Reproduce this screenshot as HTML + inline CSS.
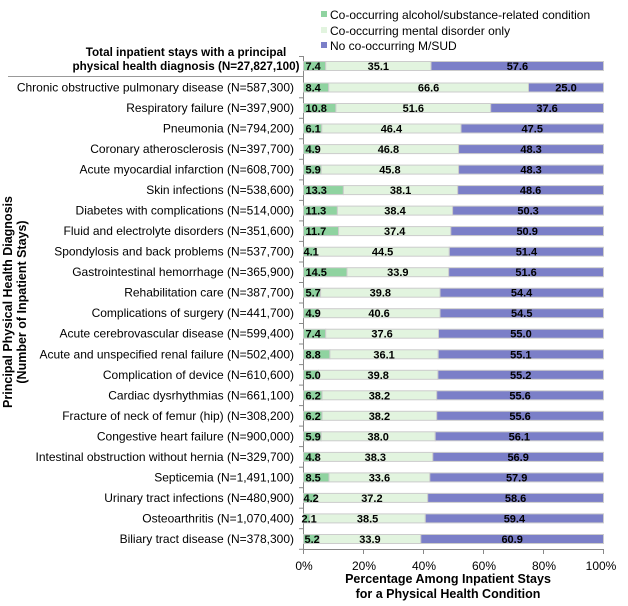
<!DOCTYPE html>
<html><head><meta charset="utf-8"><style>
body{margin:0;background:#fff}
svg{display:block;font-family:"Liberation Sans",Arial,sans-serif}
.l{font-size:12px;fill:#000;text-anchor:end}
.v{font-size:11px;font-weight:bold;fill:#000;text-anchor:middle}
.g{font-size:11px;font-weight:bold;fill:#000}
</style></head><body>
<svg width="628" height="606" viewBox="0 0 628 606">
<rect x="321" y="11" width="6" height="6" fill="#8fd3a0"/>
<text x="330" y="19" font-size="12">Co-occurring alcohol/substance-related condition</text>
<rect x="321" y="27" width="6" height="6" fill="#e2f4df"/>
<text x="330" y="35" font-size="12">Co-occurring mental disorder only</text>
<rect x="321" y="42" width="6" height="6" fill="#7b7fc8"/>
<text x="330" y="50" font-size="12">No co-occurring M/SUD</text>

<text x="186" y="56" font-size="11.7" font-weight="bold" text-anchor="middle">Total inpatient stays with a principal</text>
<text x="186" y="70" font-size="11.7" font-weight="bold" text-anchor="middle">physical health diagnosis (N=27,827,100)</text>
<line x1="8" y1="76.5" x2="303.5" y2="76.5" stroke="#999" stroke-width="1"/>

<line x1="303.5" y1="56" x2="303.5" y2="549.5" stroke="#888" stroke-width="1"/>
<line x1="303.5" y1="549.5" x2="603.5" y2="549.5" stroke="#888" stroke-width="1"/>
<g stroke="#888">
<line x1="303.5" y1="549" x2="303.5" y2="554"/><line x1="363.5" y1="549" x2="363.5" y2="554"/><line x1="423.5" y1="549" x2="423.5" y2="554"/><line x1="483.5" y1="549" x2="483.5" y2="554"/><line x1="543.5" y1="549" x2="543.5" y2="554"/><line x1="603.5" y1="549" x2="603.5" y2="554"/>
<line x1="299" y1="56.5" x2="303.5" y2="56.5"/>
<line x1="299" y1="97.8" x2="303.5" y2="97.8"/><line x1="299" y1="118.3" x2="303.5" y2="118.3"/><line x1="299" y1="138.8" x2="303.5" y2="138.8"/><line x1="299" y1="159.3" x2="303.5" y2="159.3"/><line x1="299" y1="179.9" x2="303.5" y2="179.9"/><line x1="299" y1="200.4" x2="303.5" y2="200.4"/><line x1="299" y1="220.9" x2="303.5" y2="220.9"/><line x1="299" y1="241.4" x2="303.5" y2="241.4"/><line x1="299" y1="262" x2="303.5" y2="262"/><line x1="299" y1="282.5" x2="303.5" y2="282.5"/><line x1="299" y1="303" x2="303.5" y2="303"/><line x1="299" y1="323.5" x2="303.5" y2="323.5"/><line x1="299" y1="344" x2="303.5" y2="344"/><line x1="299" y1="364.6" x2="303.5" y2="364.6"/><line x1="299" y1="385.1" x2="303.5" y2="385.1"/><line x1="299" y1="405.6" x2="303.5" y2="405.6"/><line x1="299" y1="426.1" x2="303.5" y2="426.1"/><line x1="299" y1="446.6" x2="303.5" y2="446.6"/><line x1="299" y1="467.2" x2="303.5" y2="467.2"/><line x1="299" y1="487.7" x2="303.5" y2="487.7"/><line x1="299" y1="508.2" x2="303.5" y2="508.2"/><line x1="299" y1="528.7" x2="303.5" y2="528.7"/><line x1="299" y1="549.3" x2="303.5" y2="549.3"/>
</g>
<g font-size="12" text-anchor="middle">
<text x="304" y="570">0%</text><text x="364" y="570">20%</text><text x="424" y="570">40%</text><text x="484" y="570">60%</text><text x="544" y="570">80%</text><text x="601" y="570">100%</text>
</g>
<text x="448" y="583" font-size="12.5" font-weight="bold" text-anchor="middle">Percentage Among Inpatient Stays</text>
<text x="448" y="598" font-size="12.5" font-weight="bold" text-anchor="middle">for a Physical Health Condition</text>
<g transform="translate(12,302) rotate(-90)" font-size="12.5" font-weight="bold" text-anchor="middle">
<text x="0" y="0">Principal Physical Health Diagnosis</text>
<text x="0" y="14">(Number of Inpatient Stays)</text>
</g>

<g transform="translate(303.5,66)" stroke="#ccc" stroke-width="1">
<rect x="0" y="-4.5" width="22.2" height="9" fill="#8fd3a0"/>
<rect x="22.2" y="-4.5" width="105.3" height="9" fill="#e2f4df"/>
<rect x="127.5" y="-4.5" width="172.5" height="9" fill="#7b7fc8"/>
</g>
<g transform="translate(303.5,70)"><text class="g" x="2">7.4</text><text class="v" x="74.85">35.1</text><text class="v" x="213.9">57.6</text></g>

<g>
<text class="l" x="294" y="91.5">Chronic obstructive pulmonary disease (N=587,300)</text>
<text class="l" x="294" y="112">Respiratory failure (N=397,900)</text>
<text class="l" x="294" y="132.5">Pneumonia (N=794,200)</text>
<text class="l" x="294" y="153.1">Coronary atherosclerosis (N=397,700)</text>
<text class="l" x="294" y="173.6">Acute myocardial infarction (N=608,700)</text>
<text class="l" x="294" y="194.1">Skin infections (N=538,600)</text>
<text class="l" x="294" y="214.6">Diabetes with complications (N=514,000)</text>
<text class="l" x="294" y="235.1">Fluid and electrolyte disorders (N=351,600)</text>
<text class="l" x="294" y="255.7">Spondylosis and back problems (N=537,700)</text>
<text class="l" x="294" y="276.2">Gastrointestinal hemorrhage (N=365,900)</text>
<text class="l" x="294" y="296.7">Rehabilitation care (N=387,700)</text>
<text class="l" x="294" y="317.2">Complications of surgery (N=441,700)</text>
<text class="l" x="294" y="337.7">Acute cerebrovascular disease (N=599,400)</text>
<text class="l" x="294" y="358.3">Acute and unspecified renal failure (N=502,400)</text>
<text class="l" x="294" y="378.8">Complication of device (N=610,600)</text>
<text class="l" x="294" y="399.3">Cardiac dysrhythmias (N=661,100)</text>
<text class="l" x="294" y="419.8">Fracture of neck of femur (hip) (N=308,200)</text>
<text class="l" x="294" y="440.3">Congestive heart failure (N=900,000)</text>
<text class="l" x="294" y="460.9">Intestinal obstruction without hernia (N=329,700)</text>
<text class="l" x="294" y="481.4">Septicemia (N=1,491,100)</text>
<text class="l" x="294" y="501.9">Urinary tract infections (N=480,900)</text>
<text class="l" x="294" y="522.4">Osteoarthritis (N=1,070,400)</text>
<text class="l" x="294" y="543">Biliary tract disease (N=378,300)</text>
</g>

<g stroke="#ccc" stroke-width="1">
<g transform="translate(303.5,87.5)"><rect x="0" y="-4.5" width="25.2" height="9" fill="#8fd3a0"/><rect x="25.2" y="-4.5" width="199.8" height="9" fill="#e2f4df"/><rect x="225" y="-4.5" width="75" height="9" fill="#7b7fc8"/></g>
<g transform="translate(303.5,108)"><rect x="0" y="-4.5" width="32.4" height="9" fill="#8fd3a0"/><rect x="32.4" y="-4.5" width="154.8" height="9" fill="#e2f4df"/><rect x="187.2" y="-4.5" width="112.8" height="9" fill="#7b7fc8"/></g>
<g transform="translate(303.5,128.5)"><rect x="0" y="-4.5" width="18.3" height="9" fill="#8fd3a0"/><rect x="18.3" y="-4.5" width="139.2" height="9" fill="#e2f4df"/><rect x="157.5" y="-4.5" width="142.5" height="9" fill="#7b7fc8"/></g>
<g transform="translate(303.5,149.1)"><rect x="0" y="-4.5" width="14.7" height="9" fill="#8fd3a0"/><rect x="14.7" y="-4.5" width="140.4" height="9" fill="#e2f4df"/><rect x="155.1" y="-4.5" width="144.9" height="9" fill="#7b7fc8"/></g>
<g transform="translate(303.5,169.6)"><rect x="0" y="-4.5" width="17.7" height="9" fill="#8fd3a0"/><rect x="17.7" y="-4.5" width="137.4" height="9" fill="#e2f4df"/><rect x="155.1" y="-4.5" width="144.9" height="9" fill="#7b7fc8"/></g>
<g transform="translate(303.5,190.1)"><rect x="0" y="-4.5" width="39.9" height="9" fill="#8fd3a0"/><rect x="39.9" y="-4.5" width="114.3" height="9" fill="#e2f4df"/><rect x="154.2" y="-4.5" width="145.8" height="9" fill="#7b7fc8"/></g>
<g transform="translate(303.5,210.6)"><rect x="0" y="-4.5" width="33.9" height="9" fill="#8fd3a0"/><rect x="33.9" y="-4.5" width="115.2" height="9" fill="#e2f4df"/><rect x="149.1" y="-4.5" width="150.9" height="9" fill="#7b7fc8"/></g>
<g transform="translate(303.5,231.1)"><rect x="0" y="-4.5" width="35.1" height="9" fill="#8fd3a0"/><rect x="35.1" y="-4.5" width="112.2" height="9" fill="#e2f4df"/><rect x="147.3" y="-4.5" width="152.7" height="9" fill="#7b7fc8"/></g>
<g transform="translate(303.5,251.7)"><rect x="0" y="-4.5" width="12.3" height="9" fill="#8fd3a0"/><rect x="12.3" y="-4.5" width="133.5" height="9" fill="#e2f4df"/><rect x="145.8" y="-4.5" width="154.2" height="9" fill="#7b7fc8"/></g>
<g transform="translate(303.5,272.2)"><rect x="0" y="-4.5" width="43.5" height="9" fill="#8fd3a0"/><rect x="43.5" y="-4.5" width="101.7" height="9" fill="#e2f4df"/><rect x="145.2" y="-4.5" width="154.8" height="9" fill="#7b7fc8"/></g>
<g transform="translate(303.5,292.7)"><rect x="0" y="-4.5" width="17.1" height="9" fill="#8fd3a0"/><rect x="17.1" y="-4.5" width="119.4" height="9" fill="#e2f4df"/><rect x="136.5" y="-4.5" width="163.5" height="9" fill="#7b7fc8"/></g>
<g transform="translate(303.5,313.2)"><rect x="0" y="-4.5" width="14.7" height="9" fill="#8fd3a0"/><rect x="14.7" y="-4.5" width="121.8" height="9" fill="#e2f4df"/><rect x="136.5" y="-4.5" width="163.5" height="9" fill="#7b7fc8"/></g>
<g transform="translate(303.5,333.7)"><rect x="0" y="-4.5" width="22.2" height="9" fill="#8fd3a0"/><rect x="22.2" y="-4.5" width="112.8" height="9" fill="#e2f4df"/><rect x="135" y="-4.5" width="165" height="9" fill="#7b7fc8"/></g>
<g transform="translate(303.5,354.3)"><rect x="0" y="-4.5" width="26.4" height="9" fill="#8fd3a0"/><rect x="26.4" y="-4.5" width="108.3" height="9" fill="#e2f4df"/><rect x="134.7" y="-4.5" width="165.3" height="9" fill="#7b7fc8"/></g>
<g transform="translate(303.5,374.8)"><rect x="0" y="-4.5" width="15" height="9" fill="#8fd3a0"/><rect x="15" y="-4.5" width="119.4" height="9" fill="#e2f4df"/><rect x="134.4" y="-4.5" width="165.6" height="9" fill="#7b7fc8"/></g>
<g transform="translate(303.5,395.3)"><rect x="0" y="-4.5" width="18.6" height="9" fill="#8fd3a0"/><rect x="18.6" y="-4.5" width="114.6" height="9" fill="#e2f4df"/><rect x="133.2" y="-4.5" width="166.8" height="9" fill="#7b7fc8"/></g>
<g transform="translate(303.5,415.8)"><rect x="0" y="-4.5" width="18.6" height="9" fill="#8fd3a0"/><rect x="18.6" y="-4.5" width="114.6" height="9" fill="#e2f4df"/><rect x="133.2" y="-4.5" width="166.8" height="9" fill="#7b7fc8"/></g>
<g transform="translate(303.5,436.3)"><rect x="0" y="-4.5" width="17.7" height="9" fill="#8fd3a0"/><rect x="17.7" y="-4.5" width="114" height="9" fill="#e2f4df"/><rect x="131.7" y="-4.5" width="168.3" height="9" fill="#7b7fc8"/></g>
<g transform="translate(303.5,456.9)"><rect x="0" y="-4.5" width="14.4" height="9" fill="#8fd3a0"/><rect x="14.4" y="-4.5" width="114.9" height="9" fill="#e2f4df"/><rect x="129.3" y="-4.5" width="170.7" height="9" fill="#7b7fc8"/></g>
<g transform="translate(303.5,477.4)"><rect x="0" y="-4.5" width="25.5" height="9" fill="#8fd3a0"/><rect x="25.5" y="-4.5" width="100.8" height="9" fill="#e2f4df"/><rect x="126.3" y="-4.5" width="173.7" height="9" fill="#7b7fc8"/></g>
<g transform="translate(303.5,497.9)"><rect x="0" y="-4.5" width="12.6" height="9" fill="#8fd3a0"/><rect x="12.6" y="-4.5" width="111.6" height="9" fill="#e2f4df"/><rect x="124.2" y="-4.5" width="175.8" height="9" fill="#7b7fc8"/></g>
<g transform="translate(303.5,518.4)"><rect x="0" y="-4.5" width="6.3" height="9" fill="#8fd3a0"/><rect x="6.3" y="-4.5" width="115.5" height="9" fill="#e2f4df"/><rect x="121.8" y="-4.5" width="178.2" height="9" fill="#7b7fc8"/></g>
<g transform="translate(303.5,539)"><rect x="0" y="-4.5" width="15.6" height="9" fill="#8fd3a0"/><rect x="15.6" y="-4.5" width="101.7" height="9" fill="#e2f4df"/><rect x="117.3" y="-4.5" width="182.7" height="9" fill="#7b7fc8"/></g>
</g>

<g>
<g transform="translate(303.5,91.5)"><text class="g" x="2">8.4</text><text class="v" x="125.1">66.6</text><text class="v" x="262.5">25.0</text></g>
<g transform="translate(303.5,112)"><text class="g" x="2">10.8</text><text class="v" x="109.8">51.6</text><text class="v" x="243.6">37.6</text></g>
<g transform="translate(303.5,132.5)"><text class="g" x="2">6.1</text><text class="v" x="87.9">46.4</text><text class="v" x="228.75">47.5</text></g>
<g transform="translate(303.5,153.1)"><text class="g" x="2">4.9</text><text class="v" x="84.9">46.8</text><text class="v" x="227.55">48.3</text></g>
<g transform="translate(303.5,173.6)"><text class="g" x="2">5.9</text><text class="v" x="86.4">45.8</text><text class="v" x="227.55">48.3</text></g>
<g transform="translate(303.5,194.1)"><text class="g" x="2">13.3</text><text class="v" x="97.05">38.1</text><text class="v" x="227.1">48.6</text></g>
<g transform="translate(303.5,214.6)"><text class="g" x="2">11.3</text><text class="v" x="91.5">38.4</text><text class="v" x="224.55">50.3</text></g>
<g transform="translate(303.5,235.1)"><text class="g" x="2">11.7</text><text class="v" x="91.2">37.4</text><text class="v" x="223.65">50.9</text></g>
<g transform="translate(303.5,255.7)"><text class="g" x="0">4.1</text><text class="v" x="79.05">44.5</text><text class="v" x="222.9">51.4</text></g>
<g transform="translate(303.5,276.2)"><text class="g" x="2">14.5</text><text class="v" x="94.35">33.9</text><text class="v" x="222.6">51.6</text></g>
<g transform="translate(303.5,296.7)"><text class="g" x="2">5.7</text><text class="v" x="76.8">39.8</text><text class="v" x="218.1">54.4</text></g>
<g transform="translate(303.5,317.2)"><text class="g" x="2">4.9</text><text class="v" x="75.6">40.6</text><text class="v" x="218.25">54.5</text></g>
<g transform="translate(303.5,337.7)"><text class="g" x="2">7.4</text><text class="v" x="78.6">37.6</text><text class="v" x="217.5">55.0</text></g>
<g transform="translate(303.5,358.3)"><text class="g" x="2">8.8</text><text class="v" x="80.55">36.1</text><text class="v" x="217.35">55.1</text></g>
<g transform="translate(303.5,378.8)"><text class="g" x="2">5.0</text><text class="v" x="74.7">39.8</text><text class="v" x="217.2">55.2</text></g>
<g transform="translate(303.5,399.3)"><text class="g" x="2">6.2</text><text class="v" x="75.9">38.2</text><text class="v" x="216.6">55.6</text></g>
<g transform="translate(303.5,419.8)"><text class="g" x="2">6.2</text><text class="v" x="75.9">38.2</text><text class="v" x="216.6">55.6</text></g>
<g transform="translate(303.5,440.3)"><text class="g" x="2">5.9</text><text class="v" x="74.7">38.0</text><text class="v" x="215.85">56.1</text></g>
<g transform="translate(303.5,460.9)"><text class="g" x="2">4.8</text><text class="v" x="71.85">38.3</text><text class="v" x="214.65">56.9</text></g>
<g transform="translate(303.5,481.4)"><text class="g" x="2">8.5</text><text class="v" x="75.9">33.6</text><text class="v" x="213.15">57.9</text></g>
<g transform="translate(303.5,501.9)"><text class="g" x="0">4.2</text><text class="v" x="68.4">37.2</text><text class="v" x="212.1">58.6</text></g>
<g transform="translate(303.5,522.4)"><text class="g" x="-2">2.1</text><text class="v" x="64.05">38.5</text><text class="v" x="210.9">59.4</text></g>
<g transform="translate(303.5,543)"><text class="g" x="1">5.2</text><text class="v" x="66.45">33.9</text><text class="v" x="208.65">60.9</text></g>
</g>
</svg>
</body></html>
